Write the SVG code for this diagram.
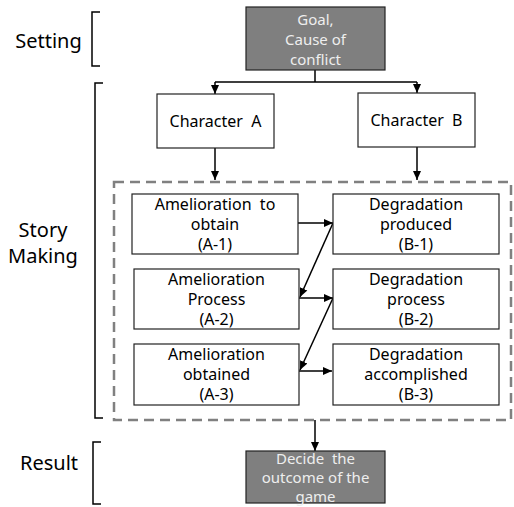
<svg xmlns="http://www.w3.org/2000/svg" width="514" height="507" viewBox="0 0 514 507">
<defs>
<marker id="ah" markerWidth="10" markerHeight="10" refX="9" refY="5" orient="auto" markerUnits="userSpaceOnUse">
<path d="M0,1 L9,5 L0,9 Z" fill="#000"/>
</marker>
<style>
text{font-family:"Noto Sans","DejaVu Sans",sans-serif;white-space:pre}
.lbl{font-size:20px;fill:#000;text-anchor:middle}
.t{font-size:16px;fill:#000;text-anchor:middle}
.tw{font-size:15px;fill:#eeeeee;text-anchor:middle}
.box{fill:#fff;stroke:#222;stroke-width:1.2}
.dbox{fill:#7f7f7f;stroke:#222;stroke-width:1.2}
.br{fill:none;stroke:#000;stroke-width:1.5}
.c{fill:none;stroke:#000;stroke-width:1.5}
.ca{fill:none;stroke:#000;stroke-width:1.5;marker-end:url(#ah)}
</style>
</defs>
<rect width="514" height="507" fill="#fff"/>
<g id="labels">
<text class="lbl" x="48.5" y="48">Setting</text>
<path class="br" d="M100,12 H92 V66 H100"/>
<text class="lbl" x="43" y="237">Story</text>
<text class="lbl" x="43" y="263">Making</text>
<path class="br" d="M103,83 H95 V418 H103"/>
<text class="lbl" x="49" y="470">Result</text>
<path class="br" d="M101,442 H93 V504 H101"/>
</g>
<g id="story-frame">
<rect x="114" y="182" width="397" height="238" fill="none" stroke="#808080" stroke-width="2.5" stroke-dasharray="10,6"/>
</g>
<g id="connectors">
<path class="c" d="M315,70 V82 M215,82 H417"/>
<path class="ca" d="M215,82 V94"/>
<path class="ca" d="M417,82 V93"/>
<path class="ca" d="M215,148 V180"/>
<path class="ca" d="M417,147 V180"/>
<path class="ca" d="M298,223 H333"/>
<path class="ca" d="M333,223 L300,297"/>
<path class="ca" d="M299,298 H333"/>
<path class="ca" d="M333,298 L300,370"/>
<path class="ca" d="M299,371 H332"/>
<path class="ca" d="M315,420 V451"/>
</g>
<g id="goal">
<rect class="dbox" x="246" y="7" width="139" height="63"/>
<text class="tw" x="315.5" y="25">Goal,</text>
<text class="tw" x="315.5" y="45">Cause of</text>
<text class="tw" x="315.5" y="65">conflict</text>
</g>
<g id="charA">
<rect class="box" x="157" y="94" width="117" height="54"/>
<text class="t" x="215.5" y="127">Character  A</text>
</g>
<g id="charB">
<rect class="box" x="358" y="93" width="117" height="54"/>
<text class="t" x="416.5" y="126">Character  B</text>
</g>
<g id="A1">
<rect class="box" x="132" y="194" width="166" height="60"/>
<text class="t" x="215" y="210">Amelioration  to</text>
<text class="t" x="215" y="230">obtain</text>
<text class="t" x="215" y="250">(A-1)</text>
</g>
<g id="B1">
<rect class="box" x="333" y="194" width="166" height="60"/>
<text class="t" x="416" y="210">Degradation</text>
<text class="t" x="416" y="230">produced</text>
<text class="t" x="416" y="250">(B-1)</text>
</g>
<g id="A2">
<rect class="box" x="134" y="269" width="165" height="60"/>
<text class="t" x="216.5" y="285">Amelioration</text>
<text class="t" x="216.5" y="305">Process</text>
<text class="t" x="216.5" y="325">(A-2)</text>
</g>
<g id="B2">
<rect class="box" x="333" y="269" width="166" height="60"/>
<text class="t" x="416" y="285">Degradation</text>
<text class="t" x="416" y="305">process</text>
<text class="t" x="416" y="325">(B-2)</text>
</g>
<g id="A3">
<rect class="box" x="134" y="344" width="165" height="61"/>
<text class="t" x="216.5" y="360">Amelioration</text>
<text class="t" x="216.5" y="380">obtained</text>
<text class="t" x="216.5" y="400">(A-3)</text>
</g>
<g id="B3">
<rect class="box" x="333" y="344" width="166" height="61"/>
<text class="t" x="416" y="360">Degradation</text>
<text class="t" x="416" y="380">accomplished</text>
<text class="t" x="416" y="400">(B-3)</text>
</g>
<g id="result">
<rect class="dbox" x="246" y="451" width="139" height="52"/>
<text class="tw" x="315.5" y="464">Decide  the</text>
<text class="tw" x="315.5" y="483">outcome of the</text>
<text class="tw" x="315.5" y="502">game</text>
</g>
</svg>
